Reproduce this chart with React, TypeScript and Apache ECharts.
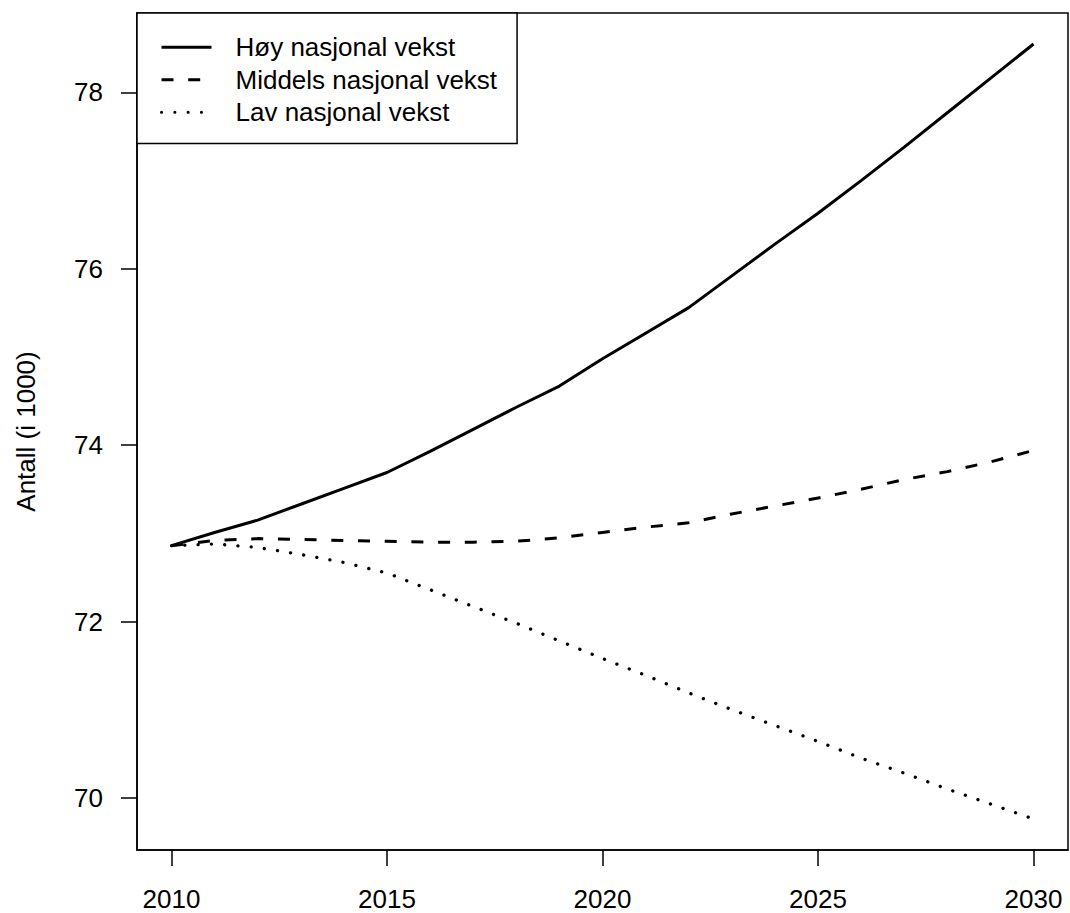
import React, { useEffect, useRef } from "react";
import * as echarts from "echarts";

const years = [2010, 2011, 2012, 2013, 2014, 2015, 2016, 2017, 2018, 2019, 2020, 2021, 2022, 2023, 2024, 2025, 2026, 2027, 2028, 2029, 2030];
const hoy = [72.86, 73.01, 73.15, 73.33, 73.51, 73.69, 73.93, 74.18, 74.43, 74.67, 74.98, 75.27, 75.56, 75.92, 76.28, 76.63, 77.0, 77.38, 77.77, 78.16, 78.55];
const middels = [72.86, 72.92, 72.94, 72.93, 72.92, 72.91, 72.9, 72.9, 72.91, 72.95, 73.01, 73.07, 73.12, 73.22, 73.31, 73.4, 73.5, 73.61, 73.7, 73.81, 73.94];
const lav = [72.86, 72.88, 72.84, 72.76, 72.67, 72.55, 72.36, 72.17, 71.98, 71.78, 71.58, 71.39, 71.19, 71.0, 70.82, 70.64, 70.45, 70.28, 70.1, 69.93, 69.76];
const seriesNames = ["Høy nasjonal vekst", "Middels nasjonal vekst", "Lav nasjonal vekst"];
const xTicks = [2010, 2015, 2020, 2025, 2030];
const yTicks = [70, 72, 74, 76, 78];
const yTitle = "Antall (i 1000)";

const FONT = "'Liberation Sans', Arial, Helvetica, sans-serif";

export default function App() {
  const ref = useRef<HTMLDivElement>(null);
  useEffect(() => {
    if (!ref.current) return;
    const chart = echarts.init(ref.current, undefined, { renderer: "svg" });
    const all = [...hoy, ...middels, ...lav];
    const lo = Math.min(...all);
    const hi = Math.max(...all);
    const ext = (hi - lo) * 0.04;
    const xExt = (years[years.length - 1] - years[0]) * 0.04;
    const mk = (vals: number[]) => years.map((y, i) => [y, vals[i]]);
    const styles: any[] = [
      { color: "#000", width: 3, type: "solid" },
      { color: "#000", width: 3, type: [12, 14.7], cap: "butt" },
      { color: "#000", width: 3.3, type: [0.1, 13.2], cap: "round" },
    ];
    const datas = [hoy, middels, lav];
    chart.setOption({
      animation: false,
      backgroundColor: "#fff",
      textStyle: { fontFamily: FONT },
      grid: {
        left: 137,
        right: 2,
        top: 13,
        bottom: 63,
        show: true,
        borderColor: "#000",
        borderWidth: 1.5,
        backgroundColor: "transparent",
      },
      legend: {
        orient: "vertical",
        left: 137,
        top: 13,
        padding: [18, 20, 15, 23],
        itemWidth: 50,
        itemHeight: 0.1,
        itemGap: 0,
        backgroundColor: "#fff",
        borderColor: "#000",
        borderWidth: 1.5,
        borderRadius: 0,
        itemStyle: { color: "transparent", opacity: 0, borderWidth: 0 },
        lineStyle: { width: 3 },
        textStyle: {
          fontFamily: FONT,
          fontSize: 26,
          color: "#000",
          lineHeight: 32.5,
          padding: [0, 0, 0, 19],
        },
        data: seriesNames,
      },
      xAxis: {
        type: "value",
        min: years[0] - xExt,
        max: years[years.length - 1] + xExt,
        splitLine: { show: false },
        axisLine: { show: true, onZero: false, lineStyle: { color: "#000", width: 1.5 } },
        axisTick: { show: true, customValues: xTicks, length: 16, lineStyle: { color: "#000", width: 1.5 } },
        axisLabel: {
          customValues: xTicks,
          fontSize: 26,
          color: "#000",
          fontFamily: FONT,
          margin: 36,
          formatter: (v: number) => String(v),
        },
      },
      yAxis: {
        type: "value",
        min: lo - ext,
        max: hi + ext,
        name: yTitle,
        nameLocation: "middle",
        nameGap: 98,
        nameRotate: 90,
        nameTextStyle: { fontSize: 26, color: "#000", fontFamily: FONT },
        splitLine: { show: false },
        axisLine: { show: true, onZero: false, lineStyle: { color: "#000", width: 1.5 } },
        axisTick: { show: true, customValues: yTicks, length: 16, lineStyle: { color: "#000", width: 1.5 } },
        axisLabel: {
          customValues: yTicks,
          fontSize: 26,
          color: "#000",
          fontFamily: FONT,
          margin: 34,
          formatter: (v: number) => String(v),
        },
      },
      series: seriesNames.map((name, i) => ({
        name,
        type: "line",
        data: mk(datas[i]),
        symbol: "none",
        showSymbol: false,
        lineStyle: styles[i],
        itemStyle: { color: "#000" },
        z: 2,
      })),
    });
    return () => chart.dispose();
  }, []);
  return (
    <div
      ref={ref}
      style={{ position: "absolute", left: 0, top: 0, width: 1070, height: 913, background: "#fff" }}
    />
  );
}
